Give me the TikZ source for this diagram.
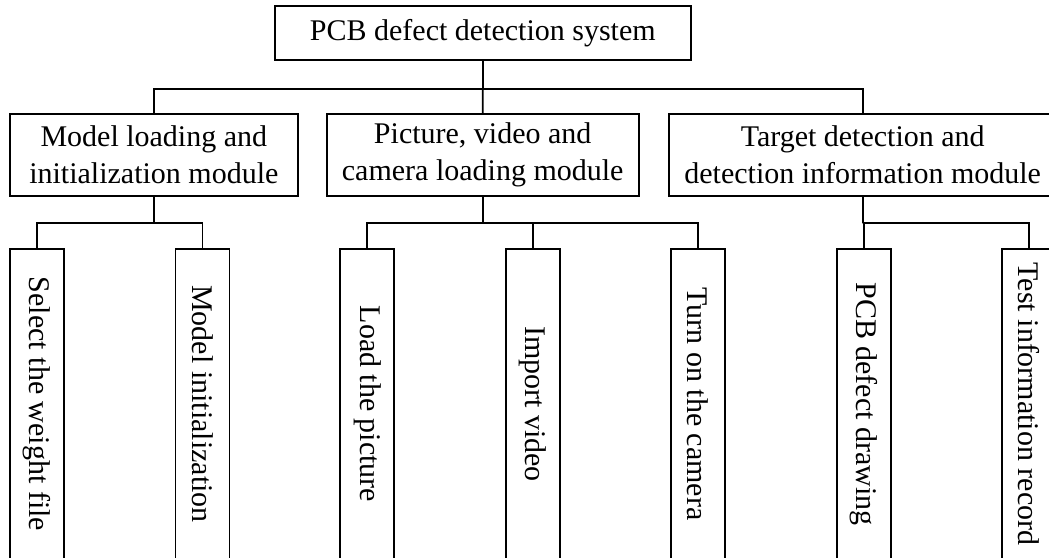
\documentclass[tikz,border=0pt]{standalone}
\usepackage{fontspec}
\setmainfont{Liberation Serif}
\usetikzlibrary{positioning}

\begin{document}
\begin{tikzpicture}[x=1pt,y=-1pt,line width=1.8pt]
\tikzstyle{every node}+=[inner sep=0pt, font=\fontsize{30}{36.7}\selectfont]
\tikzstyle{sysbox}=[draw=black, minimum width=415.7pt, minimum height=54pt]
\tikzstyle{modbox}=[draw=black, minimum height=81.4pt, align=center]
\tikzstyle{leafbox}=[draw=black, minimum width=54pt, minimum height=309.4pt]
\clip (0,0) rectangle (1049,557);
\node [sysbox] (sys) at (482.8,33) {PCB defect detection system};
\node [modbox, minimum width=287.7pt] (m1) at (153.85,155) {Model loading and\\initialization module};
\node [modbox, minimum width=312pt] (m2) at (482.7,155) {Picture, video and\\camera loading module};
\node [modbox, minimum width=387.4pt] (m3) at (862.7,155) {Target detection and\\detection information module};
\node [leafbox] (l1) at (37,404) {\rotatebox{-90}{Select the weight file}};
\node [leafbox] (l2) at (202.5,404) {\rotatebox{-90}{Model initialization}};
\node [leafbox] (l3) at (367.3,404) {\rotatebox{-90}{Load the picture}};
\node [leafbox] (l4) at (532.8,404) {\rotatebox{-90}{Import video}};
\node [leafbox] (l5) at (698,404) {\rotatebox{-90}{Turn on the camera}};
\node [leafbox] (l6) at (863.7,404) {\rotatebox{-90}{PCB defect drawing}};
\node [leafbox] (l7) at (1029.3,404) {\rotatebox{-90}{Test information record}};
\draw (sys.south) -- ++(0,27.7) coordinate (b0);
\draw (m1.north) |- (b0) -| (m3.north);
\draw (b0) -- (m2.north);
\draw (m1.south) -- ++(0,26.6) coordinate (b1);
\draw (l1.north) |- (b1) -| (l2.north);
\draw (m2.south) -- ++(0,26.6) coordinate (b2);
\draw (l3.north) |- (b2) -| (l5.north);
\draw (b2 -| l4.north) -- (l4.north);
\draw (m3.south) -- ++(0,26.6) coordinate (b3);
\draw (l6.north) |- (b3) -| (l7.north);
\end{tikzpicture}
\end{document}
